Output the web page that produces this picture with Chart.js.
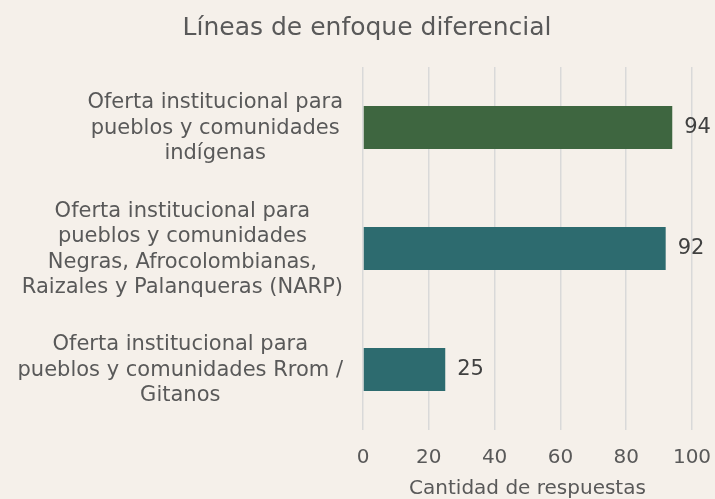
<!DOCTYPE html>
<html>
<head>
<meta charset="utf-8">
<script src="https://cdn.jsdelivr.net/npm/chart.js@4"></script>
<style>
    body { margin: 0; background: #f5f0ea; }
    #contenedor { width: 715px; height: 499px; }
</style>
</head>
<body>
<div id="contenedor"><canvas id="graficoLineas"></canvas></div>
<script>

const categorias = [
    ["Oferta institucional para", "pueblos y comunidades", "indígenas"],
    ["Oferta institucional para", "pueblos y comunidades", "Negras, Afrocolombianas,", "Raizales y Palanqueras (NARP)"],
    ["Oferta institucional para", "pueblos y comunidades Rrom /", "Gitanos"]
];
const respuestas = [94, 92, 25];
const colores = ["#3e6640", "#2d6b6f", "#2d6b6f"];
const marcasEje = [0, 20, 40, 60, 80, 100];

const fuente = "'DejaVu Sans', Verdana, sans-serif";

// etiquetas de categoria: bloque alineado a la derecha, lineas centradas
const etiquetasCategoria = {
    id: "etiquetasCategoria",
    afterDraw(chart){
        const ctx = chart.ctx;
        const escalaY = chart.scales.y;
        const borde = chart.chartArea.left - 20;
        const alto = 25.5;

        ctx.save();
        ctx.font = "21px " + fuente;
        ctx.fillStyle = "#595959";
        ctx.textAlign = "center";
        ctx.textBaseline = "middle";

        categorias.forEach((lineas, i) => {
            let ancho = 0;
            lineas.forEach(l => { ancho = Math.max(ancho, ctx.measureText(l).width); });
            let centroX = borde - ancho / 2;
            let centroY = escalaY.getPixelForValue(i) + 1;
            let inicio = centroY - (lineas.length - 1) * alto / 2;
            lineas.forEach((l, j) => {
                ctx.fillText(l, centroX, inicio + j * alto);
            });
        });
        ctx.restore();
    }
};

// valores al final de cada barra
const valoresBarras = {
    id: "valoresBarras",
    afterDatasetsDraw(chart){
        const ctx = chart.ctx;
        const meta = chart.getDatasetMeta(0);

        ctx.save();
        ctx.font = "21px " + fuente;
        ctx.fillStyle = "#404040";
        ctx.textAlign = "left";
        ctx.textBaseline = "middle";
        meta.data.forEach((barra, i) => {
            ctx.fillText(respuestas[i], barra.x + 12, barra.y);
        });
        ctx.restore();
    }
};

new Chart(document.getElementById("graficoLineas"), {
    type: "bar",
    data: {
        labels: categorias.map(c => c.join(" ")),
        datasets: [{
            label: "Cantidad de respuestas",
            data: respuestas,
            backgroundColor: colores,
            barPercentage: 0.355,
            categoryPercentage: 1
        }]
    },
    options: {
        indexAxis: "y",
        responsive: true,
        maintainAspectRatio: false,
        animation: false,
        layout: { padding: { left: 42, right: 23, top: 0, bottom: 0 } },
        plugins: {
            legend: { display: false },
            tooltip: { enabled: false },
            title: {
                display: true,
                text: "Líneas de enfoque diferencial",
                color: "#595959",
                font: { family: fuente, size: 25, weight: "normal" },
                padding: { top: 13, bottom: 24 }
            }
        },
        scales: {
            x: {
                min: 0,
                max: 100,
                afterBuildTicks(escala){
                    escala.ticks = marcasEje.map(v => ({ value: v }));
                },
                afterFit(escala){
                    escala.paddingLeft = 0;
                    escala.paddingRight = 0;
                },
                grid: { color: "#d9d9d9", lineWidth: 1.5, drawTicks: false },
                border: { display: false },
                ticks: {
                    color: "#595959",
                    padding: 16,
                    font: { family: fuente, size: 20 }
                },
                title: {
                    display: true,
                    text: "Cantidad de respuestas",
                    color: "#595959",
                    font: { family: fuente, size: 20 },
                    padding: { top: -9, bottom: -2 }
                }
            },
            y: {
                grid: { display: false },
                border: { display: false },
                ticks: { display: false },
                afterFit(escala){
                    escala.width = 321;
                }
            }
        }
    },
    plugins: [etiquetasCategoria, valoresBarras]
});

</script>
</body>
</html>
